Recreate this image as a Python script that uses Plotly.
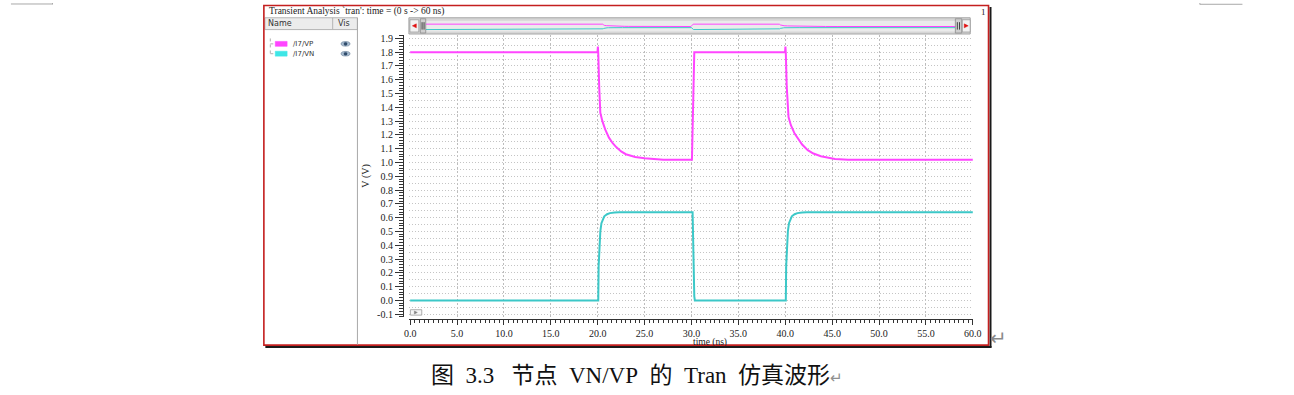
import plotly.graph_objects as go

W, H = 1294, 395          # reference canvas (pixel coordinates below)
FIG_H = 390               # figure height (nothing is drawn below y=390)
def px(x): return x / W
def py(y): return 1 - y / FIG_H

# ---------------- data ----------------
t_vp = [0, 19.98, 20.02, 20.06, 20.16, 20.28, 20.5, 20.8, 21.2, 21.6,
        22.0, 22.5, 23.0, 23.5, 24.0, 25.0, 26.0, 27.0, 30.05, 30.3,
        39.98, 40.02, 40.06, 40.16, 40.35, 40.6, 41.0, 41.4, 41.8, 42.4,
        43.0, 43.8, 44.5, 45.3, 46.7, 60.0]
v_vp = [1.80, 1.80, 1.84, 1.79, 1.55, 1.36, 1.30, 1.24, 1.18, 1.14,
        1.11, 1.08, 1.06, 1.05, 1.04, 1.03, 1.025, 1.02, 1.02, 1.80,
        1.80, 1.84, 1.79, 1.55, 1.33, 1.27, 1.21, 1.17, 1.13, 1.09,
        1.065, 1.045, 1.035, 1.026, 1.02, 1.02]

t_vn = [0, 20.06, 20.1, 20.16, 20.28, 20.4, 20.55, 20.7, 21.0, 21.3,
        21.8, 22.3, 30.12, 30.16, 30.22, 30.3, 30.36, 40.06, 40.1, 40.16,
        40.28, 40.4, 40.55, 40.7, 41.0, 41.3, 41.8, 42.3, 60.0]
v_vn = [0.0, 0.0, 0.25, 0.38, 0.50, 0.56, 0.59, 0.61, 0.625, 0.633,
        0.637, 0.64, 0.64, 0.45, 0.32, 0.03, 0.0, 0.0, 0.25, 0.38,
        0.50, 0.56, 0.59, 0.61, 0.625, 0.633, 0.637, 0.64, 0.64]

series_names = ["/I7/VP", "/I7/VN"]
series_colors = ["#ff45ff", "#3cc8c8"]

x_tick_vals = [0, 5, 10, 15, 20, 25, 30, 35, 40, 45, 50, 55, 60]
x_tick_text = ["0.0", "5.0", "10.0", "15.0", "20.0", "25.0", "30.0",
               "35.0", "40.0", "45.0", "50.0", "55.0", "60.0"]
y_tick_vals = [-0.1, 0.0, 0.1, 0.2, 0.3, 0.4, 0.5, 0.6, 0.7, 0.8, 0.9, 1.0,
               1.1, 1.2, 1.3, 1.4, 1.5, 1.6, 1.7, 1.8, 1.9]
y_tick_text = ["-0.1", "0.0", "0.1", "0.2", "0.3", "0.4", "0.5", "0.6", "0.7",
               "0.8", "0.9", "1.0", "1.1", "1.2", "1.3", "1.4", "1.5", "1.6",
               "1.7", "1.8", "1.9"]

title_text = "Transient Analysis `tran': time = (0 s -> 60 ns)"
caption_text = ("图&#160;&#160;3.3&#160;&#160;&#160;节点&#160;&#160;VN/VP&#160;&#160;的"
                "&#160;&#160;Tran&#160;&#160;仿真波形")

SERIF = "Liberation Serif, DejaVu Serif, serif"
SANS = "DejaVu Sans, Liberation Sans, sans-serif"
GRID_H = "#c4c4c4"
GRID_V = "#bdbdbd"

fig = go.Figure()

for t, v, name, col in [(t_vp, v_vp, series_names[0], series_colors[0]),
                        (t_vn, v_vn, series_names[1], series_colors[1])]:
    fig.add_trace(go.Scatter(x=t, y=v, mode="lines", name=name,
                             line=dict(color=col, width=2),
                             xaxis="x", yaxis="y", showlegend=False,
                             hoverinfo="skip"))
fig.add_trace(go.Scatter(x=[None], y=[None], xaxis="x", yaxis="y2",
                         showlegend=False, hoverinfo="skip"))
for t, v, col in [(t_vp, v_vp, series_colors[0]), (t_vn, v_vn, series_colors[1])]:
    fig.add_trace(go.Scatter(x=t, y=v, mode="lines",
                             line=dict(color=col, width=1),
                             xaxis="x3", yaxis="y3", showlegend=False,
                             hoverinfo="skip"))

YR = [-0.121, 1.921]
XR = [-0.08, 60.04]
ydom = [py(319), py(33)]

fig.update_layout(
    width=W, height=FIG_H,
    margin=dict(l=0, r=0, t=0, b=0),
    paper_bgcolor="white", plot_bgcolor="rgba(0,0,0,0)",
    xaxis=dict(domain=[px(408.5), px(978)], range=XR, anchor="free",
               position=py(320.7), tickmode="array", tickvals=x_tick_vals,
               ticktext=x_tick_text, ticks="outside", ticklen=5,
               tickcolor="#333", tickwidth=1, showline=True,
               linecolor="#333", linewidth=1, showgrid=True,
               gridcolor=GRID_V, griddash="2px,2px", gridwidth=1, zeroline=False,
               tickfont=dict(family=SERIF, size=10, color="#222"),
               minor=dict(dtick=0.5, tick0=0, ticks="outside", ticklen=3,
                          tickcolor="#333", showgrid=False)),
    yaxis=dict(domain=ydom, range=YR, anchor="x", dtick=0.05, tick0=0,
               showgrid=True, gridcolor=GRID_H, griddash="1px,2px", gridwidth=1,
               showticklabels=False, ticks="", showline=False,
               zeroline=False),
    yaxis2=dict(overlaying="y", range=YR, anchor="free", position=px(402),
                side="left", tickmode="array", tickvals=y_tick_vals,
                ticktext=y_tick_text, ticks="outside", ticklen=8,
                tickcolor="#333", showline=True, linecolor="#333",
                linewidth=1, showgrid=False, zeroline=False,
                tickfont=dict(family=SERIF, size=10, color="#222"),
                minor=dict(dtick=0.02, tick0=0, ticks="outside", ticklen=4,
                           tickcolor="#333", showgrid=False)),
    xaxis3=dict(domain=[px(425), px(960)], range=[0, 60], anchor="y3",
                visible=False),
    yaxis3=dict(domain=[py(28), py(18)], range=[-0.33, 2.94], anchor="x3",
                visible=False),
)

shapes = []
def rect(x0, y0, x1, y1, fill=None, line="#999", lw=1, layer="below"):
    shapes.append(dict(type="rect", xref="paper", yref="paper",
                       x0=px(x0), x1=px(x1), y0=py(y0), y1=py(y1),
                       fillcolor=fill if fill else "rgba(0,0,0,0)",
                       line=dict(color=line, width=lw) if lw else dict(width=0),
                       layer=layer))
def line(x0, y0, x1, y1, col="#999", lw=1, dash=None, layer="above"):
    d = dict(color=col, width=lw)
    if dash:
        d["dash"] = dash
    shapes.append(dict(type="line", xref="paper", yref="paper",
                       x0=px(x0), x1=px(x1), y0=py(y0), y1=py(y1),
                       line=d, layer=layer))
def path(pts, fill, col=None, layer="above"):
    s = "M " + " L ".join(f"{px(a)},{py(b)}" for a, b in pts) + " Z"
    shapes.append(dict(type="path", xref="paper", yref="paper", path=s,
                       fillcolor=fill, line=dict(color=col or fill, width=0.5),
                       layer=layer))
def circle(x0, y0, x1, y1, fill, col, lw=0.5):
    shapes.append(dict(type="circle", xref="paper", yref="paper",
                       x0=px(x0), x1=px(x1), y0=py(y0), y1=py(y1),
                       fillcolor=fill, line=dict(color=col, width=lw),
                       layer="above"))

# page margin marks
line(6, 1, 48, 1, "#a8a8a8", 1)
line(48, 0, 48, 1.5, "#a8a8a8", 1)
line(1207, 1.3, 1250, 1.3, "#a8a8a8", 1)
line(1207, 0, 1207, 1.5, "#a8a8a8", 1)

# outer frame: red border + dark shadow
line(995.5, 4, 995.5, 350, "#1a1a1a", 2)
line(263, 349.5, 996.5, 349.5, "#1a1a1a", 2)
rect(261.5, 2.5, 993.5, 347.5, None, "#c41f1f", 1.6, layer="above")

# left panel
rect(262.5, 15, 356, 27, "#ececec", "#b4b4b4", 1)
line(331, 15, 331, 27, "#b4b4b4", 1)
line(356, 15, 356, 347, "#a8a8a8", 1)
line(268, 36, 268, 52, "#b0b0b0", 1, "dot")
line(268, 41.5, 272, 41.5, "#b0b0b0", 1, "dot")
line(268, 51.5, 272, 51.5, "#b0b0b0", 1, "dot")
rect(273, 39, 285, 44, series_colors[0], series_colors[0], 0.5, layer="above")
rect(273, 49, 285, 54, "#3ee6e6", "#3ee6e6", 0.5, layer="above")
for yc in (41.5, 51.5):
    circle(339.5, yc - 2.3, 348.5, yc + 2.3, "#a9bdd0", "#5d7690", 0.6)
    circle(342.3, yc - 1.6, 345.7, yc + 1.6, "#2e4a6a", "#2e4a6a", 0.3)

# scrollbar
rect(408, 15, 975, 31.5, "#d6d6d6", "#a6a6a6", 1)
rect(425, 18, 960, 29, "#ebebeb", None, 0)
rect(409, 17, 418, 29.5, "#f2f2f2", "#9a9a9a", 0.8, layer="above")
path([(411.5, 23.2), (415.5, 21.2), (415.5, 25.2)], "#e01010")
rect(419.5, 16, 425, 30.5, "#cfcfcf", "#8c8c8c", 0.8, layer="above")
line(421.3, 19.5, 421.3, 27, "#444", 1)
line(423.3, 19.5, 423.3, 27, "#444", 1)
rect(960, 16, 966.5, 30.5, "#cfcfcf", "#8c8c8c", 0.8, layer="above")
line(962, 19.5, 962, 27, "#444", 1)
line(964.2, 19.5, 964.2, 27, "#444", 1)
rect(967, 17, 975, 29.5, "#f2f2f2", "#9a9a9a", 0.8, layer="above")
path([(973, 23.2), (969, 21.2), (969, 25.2)], "#e01010")

rect(409.5, 311.5, 421, 317, "#f6f6f6", "#9a9a9a", 0.8, layer="above")
path([(413.5, 312.8), (413.5, 315.8), (416.5, 314.3)], "#808080")

fig.update_layout(shapes=shapes)

ann = []
def text(x, y, s, size, fam=SERIF, col="#222", xanchor="left", angle=0):
    ann.append(dict(xref="paper", yref="paper", x=px(x), y=py(y), text=s,
                    showarrow=False, xanchor=xanchor, yanchor="middle",
                    font=dict(family=fam, size=size, color=col),
                    textangle=angle))

text(265, 9, title_text, 9.5)
text(988, 9, "1", 9, xanchor="center")
text(264, 21, "Name", 8, SANS, "#333")
text(334, 21, "Vis", 8, SANS, "#333")
text(289, 41.5, series_names[0], 7, SANS, "#333")
text(289, 51.5, series_names[1], 7, SANS, "#333")
text(693, 344.5, "time (ns)", 9.5)
text(365, 176, "V (V)", 10, xanchor="center", angle=-90)
text(1004, 340, "↵", 20, "DejaVu Sans", "#8a8a8a", xanchor="center")
ann.append(dict(xref="paper", yref="paper", x=px(428), y=py(378),
                text=caption_text + '<span style="color:#909090;font-size:15px">↵</span>',
                showarrow=False, xanchor="left", yanchor="middle",
                font=dict(family="Liberation Serif, Noto Sans CJK SC", size=23,
                          color="#111")))
fig.update_layout(annotations=ann)

fig.write_html("out.html", config={"displayModeBar": False}, post_script=(
    "document.documentElement.style.margin='0';"
    "document.documentElement.style.overflow='hidden';"
    "document.body.style.margin='0';document.body.style.padding='0';"
    "document.body.style.overflow='hidden';"))
